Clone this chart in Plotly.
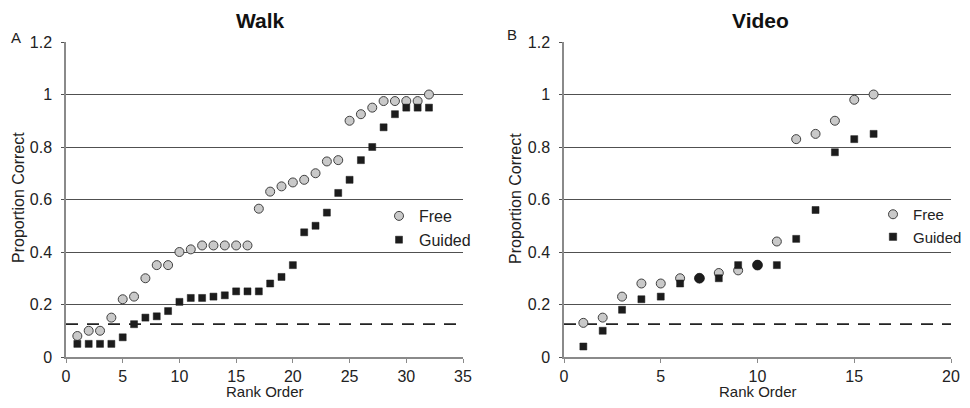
import plotly.graph_objects as go

# ---- data ----
walk_rank = list(range(1, 33))
walk_free = [0.08, 0.10, 0.10, 0.15, 0.22, 0.23, 0.30, 0.35, 0.35, 0.40,
             0.41, 0.425, 0.425, 0.425, 0.425, 0.425, 0.565, 0.63, 0.65, 0.665,
             0.675, 0.70, 0.745, 0.75, 0.90, 0.925, 0.95, 0.975, 0.975, 0.975,
             0.975, 1.0]
walk_guided = [0.05, 0.05, 0.05, 0.05, 0.075, 0.125, 0.15, 0.155, 0.175, 0.21,
               0.225, 0.225, 0.23, 0.235, 0.25, 0.25, 0.25, 0.28, 0.305, 0.35,
               0.475, 0.50, 0.55, 0.625, 0.675, 0.75, 0.80, 0.875, 0.925, 0.95,
               0.95, 0.95]
video_rank = list(range(1, 17))
video_free = [0.13, 0.15, 0.23, 0.28, 0.28, 0.30, 0.30, 0.32, 0.33, 0.35,
              0.44, 0.83, 0.85, 0.90, 0.98, 1.0]
video_guided = [0.04, 0.10, 0.18, 0.22, 0.23, 0.28, 0.30, 0.30, 0.35, 0.35,
                0.35, 0.45, 0.56, 0.78, 0.83, 0.85]
chance = 0.125
y_ticks = [0, 0.2, 0.4, 0.6, 0.8, 1, 1.2]
y_ticklabels = ["0", "0.2", "0.4", "0.6", "0.8", "1", "1.2"]

FONT = "Liberation Sans, Arial, sans-serif"
FREE_FILL = "#c9c9c9"
FREE_LINE = "#404040"
GUIDED = "#1c1c1c"
GRID = "#505050"

# page is 970x408; body has an 8px margin, so the figure is 954x392
W, H, OFF = 954, 392, 8
def px(x):
    return (x - OFF) / W
def py(y):
    return 1 - (y - OFF) / H

fig = go.Figure()

def add_panel(xr, yf, yg, xa, ya, legend):
    fig.add_trace(go.Scatter(
        x=xr, y=yf, mode="markers", name="Free", xaxis=xa, yaxis=ya,
        legend=legend,
        marker=dict(symbol="circle", size=9, color=FREE_FILL,
                    line=dict(color=FREE_LINE, width=1))))
    # Guided; where equal to Free (video ranks 7 and 10) point is drawn as a dark circle
    symbols = ["circle" if (legend == "legend2" and g == f and i in (6, 9)) else "square"
               for i, (g, f) in enumerate(zip(yg, yf))]
    sizes = [10 if s == "circle" else 7 for s in symbols]
    fig.add_trace(go.Scatter(
        x=xr, y=yg, mode="markers", name="Guided", xaxis=xa, yaxis=ya,
        legend=legend,
        marker=dict(symbol=symbols, size=sizes, color=GUIDED, opacity=1,
                    line=dict(color=GUIDED, width=0.5))))

add_panel(walk_rank, walk_free, walk_guided, "x", "y", "legend")
add_panel(video_rank, video_free, video_guided, "x2", "y2", "legend2")

axis_font = dict(family=FONT, size=16, color="#222")
ydom = [py(357), py(42)]

common_y = dict(range=[0, 1.2], tickvals=y_ticks, ticktext=y_ticklabels,
                showgrid=True, gridcolor=GRID, gridwidth=1,
                showline=True, linecolor="#8a8a8a", linewidth=1.5,
                ticks="outside", ticklen=3, tickcolor=GRID, ticklabelstandoff=6,
                tickfont=axis_font, zeroline=False, domain=ydom, automargin=False)
common_x = dict(showgrid=False, showline=True, linecolor="#8a8a8a", linewidth=1.5,
                ticks="outside", ticklen=4, tickcolor="#8a8a8a", automargin=False,
                tickfont=axis_font, zeroline=False)

def ann(text, x, y, size=16, angle=0, bold=False, color="#222"):
    return dict(text=f"<b>{text}</b>" if bold else text, x=px(x), y=py(y),
                xref="paper", yref="paper", xanchor="center", yanchor="middle",
                textangle=angle, showarrow=False,
                font=dict(family=FONT, size=size, color=color))

fig.update_layout(
    width=W, height=H,
    margin=dict(l=0, r=0, t=0, b=0, autoexpand=False),
    paper_bgcolor="white", plot_bgcolor="white",
    font=dict(family=FONT, color="#222"),
    xaxis=dict(common_x, domain=[px(66), px(463)], range=[0, 35],
               tickvals=[0, 5, 10, 15, 20, 25, 30, 35], anchor="y"),
    yaxis=dict(common_y, anchor="x"),
    xaxis2=dict(common_x, domain=[px(564), px(951)], range=[0, 20],
                tickvals=[0, 5, 10, 15, 20], anchor="y2"),
    yaxis2=dict(common_y, anchor="x2"),
    legend=dict(x=px(379), y=py(199), xanchor="left", yanchor="top",
                font=dict(family=FONT, size=16, color="#222"),
                bgcolor="rgba(0,0,0,0)", itemwidth=30, tracegroupgap=0),
    legend2=dict(x=px(873), y=py(198), xanchor="left", yanchor="top",
                 font=dict(family=FONT, size=15, color="#222"),
                 bgcolor="rgba(0,0,0,0)", itemwidth=30, tracegroupgap=0),
    shapes=[
        dict(type="line", xref="x domain", yref="y", x0=0, x1=1, y0=chance, y1=chance,
             line=dict(color="#222", width=1.8, dash="12px,9px"), layer="below"),
        dict(type="line", xref="x2 domain", yref="y2", x0=0, x1=1, y0=chance, y1=chance,
             line=dict(color="#222", width=1.8, dash="12px,9px"), layer="below"),
    ],
    annotations=[
        ann("Walk", 260, 20, size=21, bold=True, color="#111"),
        ann("Video", 760, 20, size=21, bold=True, color="#111"),
        ann("A", 16, 37, size=15),
        ann("B", 512, 35, size=15),
        ann("Rank Order", 265, 391, size=15),
        ann("Rank Order", 758, 391, size=15),
        ann("Proportion Correct", 19, 198, angle=-90),
        ann("Proportion Correct", 516, 198, angle=-90),
    ],
)

fig.write_html("out.html")
